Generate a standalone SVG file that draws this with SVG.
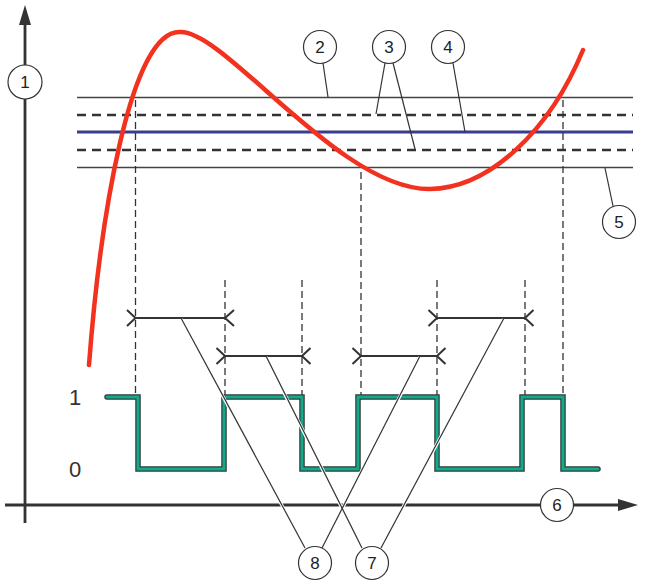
<svg xmlns="http://www.w3.org/2000/svg" width="647" height="581" viewBox="0 0 647 581">
<defs>
<style>
.axis{stroke:#333;stroke-width:2.8;fill:none}
.thr{stroke:#444;stroke-width:1.5;fill:none}
.dash{stroke:#333;stroke-width:2.6;stroke-dasharray:9 6;fill:none}
.sp{stroke:#3a3d8f;stroke-width:3;fill:none}
.vd{stroke:#333;stroke-width:1.3;stroke-dasharray:7 4;fill:none}
.iv{stroke:#333;stroke-width:2;fill:none}
.lead{stroke:#333;stroke-width:1.2;fill:none}
.halo{stroke:#fff;stroke-width:3.2;fill:none}
.cir{fill:#fff;stroke:#333;stroke-width:1.2}
.num{font-family:"Liberation Sans",Arial,sans-serif;font-size:17px;fill:#222;text-anchor:middle;dominant-baseline:central}
.lvl{font-family:"Liberation Sans",Arial,sans-serif;font-size:22px;fill:#333;text-anchor:middle;dominant-baseline:central}
</style>
</defs>
<rect width="647" height="581" fill="#fff"/>
<g id="axes">
<line class="axis" x1="25" y1="22" x2="25" y2="523"/>
<polygon points="25,5 19,25 31,25" fill="#333"/>
<line class="axis" x1="5" y1="505" x2="622" y2="505"/>
<polygon points="638,505 618,499 618,511" fill="#333"/>
</g>
<g id="thresholds">
<line class="thr" x1="77" y1="97.5" x2="633" y2="97.5"/>
<line class="dash" x1="77" y1="115" x2="633" y2="115"/>
<line class="sp" x1="77" y1="132" x2="633" y2="132"/>
<line class="dash" x1="77" y1="150" x2="633" y2="150"/>
<line class="thr" x1="77" y1="167.5" x2="633" y2="167.5"/>
</g>
<g id="verticals">
<line class="vd" x1="135.5" y1="100" x2="135.5" y2="396"/>
<line class="vd" x1="225" y1="280" x2="225" y2="396"/>
<line class="vd" x1="302" y1="280" x2="302" y2="396"/>
<line class="vd" x1="361" y1="172" x2="361" y2="396"/>
<line class="vd" x1="437" y1="280" x2="437" y2="396"/>
<line class="vd" x1="525" y1="280" x2="525" y2="396"/>
<line class="vd" x1="563" y1="100" x2="563" y2="396"/>
</g>
<g id="curve">
<path d="M89,365 C100,220 130,30 180,32 C225,30 340,190 430,189 C490,188 550,130 583,50" fill="none" stroke="#f2311f" stroke-width="4.5" stroke-linecap="round"/>
</g>
<g id="signal">
<path d="M107,397 H138 V469 H224 V397 H302 V469 H358 V397 H437 V469 H522 V397 H563 V469 H598" fill="none" stroke="#2e3b37" stroke-width="5.5" stroke-linecap="round"/>
<path d="M107,397 H138 V469 H224 V397 H302 V469 H358 V397 H437 V469 H522 V397 H563 V469 H598" fill="none" stroke="#14a98b" stroke-width="3" stroke-linecap="round"/>
</g>
<g id="intervals">
<path class="iv" d="M135.5,318 H225 M127,310 L135.5,318 L127,326 M234,310 L225,318 L234,326"/>
<path class="iv" d="M225,356 H302 M216.5,348 L225,356 L216.5,364 M310.5,348 L302,356 L310.5,364"/>
<path class="iv" d="M361,356 H437 M352.5,348 L361,356 L352.5,364 M445.5,348 L437,356 L445.5,364"/>
<path class="iv" d="M437,318 H525 M428.5,310 L437,318 L428.5,326 M533.5,310 L525,318 L533.5,326"/>
</g>
<g id="connectors">
<line class="halo" x1="181" y1="319" x2="305" y2="548"/>
<line class="halo" x1="266" y1="357" x2="362" y2="548"/>
<line class="halo" x1="420" y1="357" x2="322" y2="548"/>
<line class="halo" x1="504" y1="319" x2="381" y2="548"/>
<line class="lead" x1="181" y1="318" x2="305" y2="548"/>
<line class="lead" x1="266" y1="356" x2="362" y2="548"/>
<line class="lead" x1="420" y1="356" x2="322" y2="548"/>
<line class="lead" x1="504" y1="318" x2="381" y2="548"/>
<line class="lead" x1="323" y1="63" x2="328" y2="97"/>
<line class="lead" x1="385" y1="63" x2="376" y2="114"/>
<line class="lead" x1="393" y1="63" x2="415" y2="149"/>
<line class="lead" x1="453" y1="63" x2="465" y2="132"/>
<line class="lead" x1="605" y1="168" x2="613" y2="206"/>
</g>
<g id="n1"><circle class="cir" cx="25" cy="82" r="17"/><text class="num" x="25" y="82">1</text></g>
<g id="n2"><circle class="cir" cx="320" cy="47" r="16.5"/><text class="num" x="320" y="47">2</text></g>
<g id="n3"><circle class="cir" cx="389" cy="47" r="16.5"/><text class="num" x="389" y="47">3</text></g>
<g id="n4"><circle class="cir" cx="448" cy="47" r="16.5"/><text class="num" x="448" y="47">4</text></g>
<g id="n5"><circle class="cir" cx="619" cy="222" r="16.5"/><text class="num" x="619" y="222">5</text></g>
<g id="n6"><circle class="cir" cx="557" cy="505" r="16.5"/><text class="num" x="557" y="505">6</text></g>
<g id="n7"><circle class="cir" cx="372" cy="563" r="16.5"/><text class="num" x="372" y="563">7</text></g>
<g id="n8"><circle class="cir" cx="315" cy="563" r="16.5"/><text class="num" x="315" y="563">8</text></g>
<g id="levels">
<text class="lvl" x="75" y="397">1</text>
<text class="lvl" x="75" y="469">0</text>
</g>
</svg>
